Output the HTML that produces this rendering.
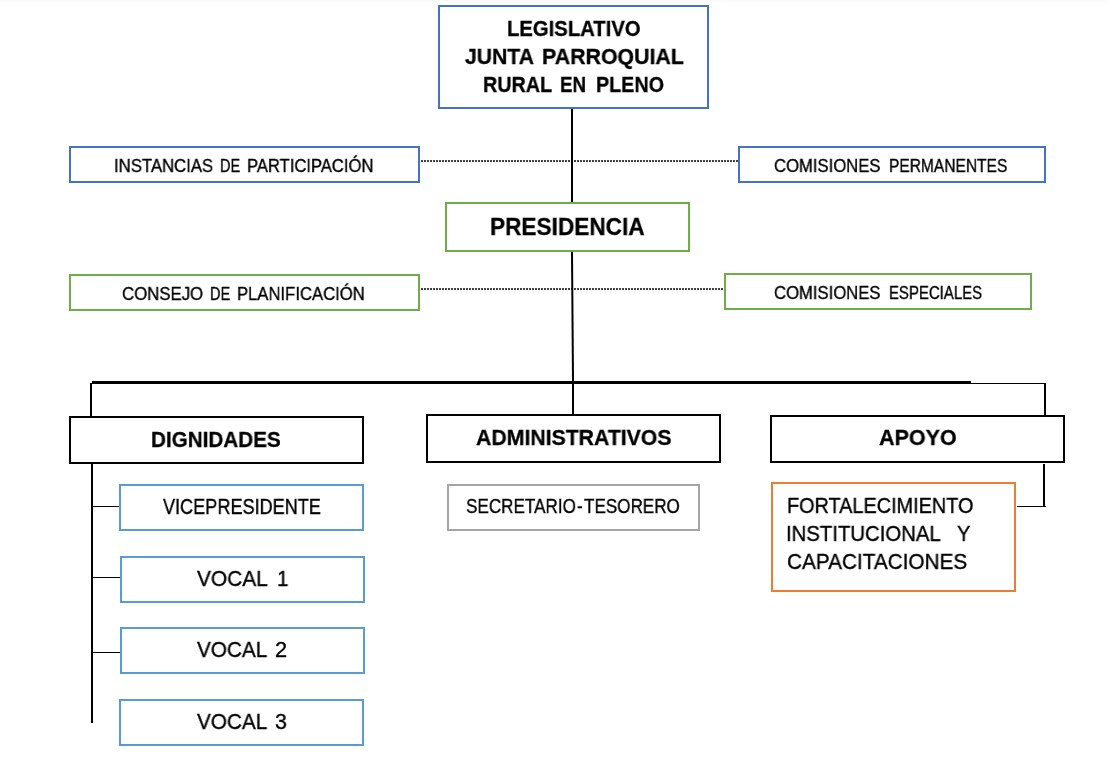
<!DOCTYPE html><html><head><meta charset="utf-8"><style>
html,body{margin:0;padding:0;background:#fff;}
body{width:1107px;height:757px;position:relative;overflow:hidden;font-family:"Liberation Sans",sans-serif;color:#000;}
.b{position:absolute;box-sizing:border-box;border:2px solid;background:transparent;}
.l{position:absolute;background:#000;}
.d{position:absolute;background:repeating-linear-gradient(to right,#404040 0 2px,transparent 2px 3px);}
.t{position:absolute;white-space:pre;line-height:1;transform-origin:0 0;will-change:transform;-webkit-text-stroke:0.35px #000;}
.bd{font-weight:bold;-webkit-text-stroke:0.3px #000;}
</style></head><body>
<div style="position:absolute;left:0;top:0;width:1107px;height:2px;background:#fafafa"></div>
<div class="d" style="left:421px;top:160px;width:317px;height:2px"></div>
<div class="d" style="left:421px;top:288px;width:303px;height:2px"></div>
<div class="b" style="left:438px;top:5px;width:271px;height:104px;border-color:#4472C4"></div>
<div class="b" style="left:69px;top:146px;width:351px;height:37px;border-color:#4472C4"></div>
<div class="b" style="left:738px;top:146px;width:308px;height:37px;border-color:#4472C4"></div>
<div class="b" style="left:445px;top:202px;width:245px;height:50px;border-color:#70AD47"></div>
<div class="b" style="left:69px;top:274px;width:351px;height:37px;border-color:#70AD47"></div>
<div class="b" style="left:724px;top:273px;width:308px;height:37px;border-color:#70AD47"></div>
<div class="b" style="left:69px;top:416px;width:295px;height:48px;border-color:#000"></div>
<div class="b" style="left:426px;top:414px;width:295px;height:49px;border-color:#000"></div>
<div class="b" style="left:770px;top:415px;width:295px;height:48px;border-color:#000"></div>
<div class="b" style="left:119px;top:484px;width:245px;height:47px;border-color:#5B9BD5"></div>
<div class="b" style="left:120px;top:556px;width:245px;height:47px;border-color:#5B9BD5"></div>
<div class="b" style="left:120px;top:627px;width:245px;height:47px;border-color:#5B9BD5"></div>
<div class="b" style="left:119px;top:699px;width:245px;height:47px;border-color:#5B9BD5"></div>
<div class="b" style="left:447px;top:484px;width:253px;height:47px;border-color:#A5A5A5"></div>
<div class="b" style="left:771px;top:482px;width:245px;height:110px;border-color:#ED7D31"></div>
<div class="l" style="left:571px;top:109px;width:2px;height:93px"></div>
<div class="l" style="left:572px;top:384px;width:2px;height:30px"></div>
<div class="l" style="left:92px;top:381px;width:879px;height:3px"></div>
<div class="l" style="left:971px;top:383px;width:75px;height:1px"></div>
<div class="l" style="left:1044px;top:383px;width:2px;height:32px"></div>
<div class="l" style="left:90px;top:383px;width:2px;height:33px"></div>
<div class="l" style="left:91px;top:464px;width:2px;height:259px"></div>
<div class="l" style="left:93px;top:506px;width:26px;height:1px"></div>
<div class="l" style="left:93px;top:577px;width:27px;height:1px"></div>
<div class="l" style="left:93px;top:652px;width:27px;height:1px"></div>
<div class="l" style="left:1043px;top:464px;width:2px;height:43px"></div>
<div class="l" style="left:1017px;top:506px;width:29px;height:1px"></div>
<svg style="position:absolute;left:0;top:0" width="1107" height="757"><line x1="572" y1="252" x2="573" y2="381" stroke="#000" stroke-width="2"/></svg>
<div class="t bd" style="left:507.00px;top:17.54px;font-size:21.80px;transform:scaleX(0.9296)">LEGISLATIVO</div>
<div class="t bd" style="left:465.00px;top:45.54px;font-size:21.80px;transform:scaleX(0.9723)">JUNTA</div>
<div class="t bd" style="left:542.00px;top:45.54px;font-size:21.80px;transform:scaleX(0.9794)">PARROQUIAL</div>
<div class="t bd" style="left:483.00px;top:73.54px;font-size:21.80px;transform:scaleX(0.9057)">RURAL</div>
<div class="t bd" style="left:560.00px;top:73.54px;font-size:21.80px;transform:scaleX(0.8606)">EN</div>
<div class="t bd" style="left:596.00px;top:73.54px;font-size:21.80px;transform:scaleX(0.9049)">PLENO</div>
<div class="t" style="left:114.00px;top:157.00px;font-size:18.90px;transform:scaleX(0.8858)">INSTANCIAS</div>
<div class="t" style="left:220.00px;top:157.00px;font-size:18.90px;transform:scaleX(0.7650)">DE</div>
<div class="t" style="left:247.00px;top:157.00px;font-size:18.90px;transform:scaleX(0.8787)">PARTICIPACIÓN</div>
<div class="t" style="left:774.00px;top:157.00px;font-size:18.90px;transform:scaleX(0.8824)">COMISIONES</div>
<div class="t" style="left:889.00px;top:157.00px;font-size:18.90px;transform:scaleX(0.8228)">PERMANENTES</div>
<div class="t bd" style="left:490.00px;top:215.08px;font-size:24.71px;transform:scaleX(0.9157)">PRESIDENCIA</div>
<div class="t" style="left:122.00px;top:285.00px;font-size:18.90px;transform:scaleX(0.8889)">CONSEJO</div>
<div class="t" style="left:210.00px;top:285.00px;font-size:18.90px;transform:scaleX(0.7677)">DE</div>
<div class="t" style="left:237.00px;top:285.00px;font-size:18.90px;transform:scaleX(0.8819)">PLANIFICACIÓN</div>
<div class="t" style="left:774.00px;top:284.00px;font-size:18.90px;transform:scaleX(0.8824)">COMISIONES</div>
<div class="t" style="left:889.00px;top:284.00px;font-size:18.90px;transform:scaleX(0.7913)">ESPECIALES</div>
<div class="t bd" style="left:151.00px;top:428.54px;font-size:21.80px;transform:scaleX(0.9481)">DIGNIDADES</div>
<div class="t bd" style="left:476.00px;top:426.54px;font-size:21.80px;transform:scaleX(0.9749)">ADMINISTRATIVOS</div>
<div class="t bd" style="left:879.00px;top:426.54px;font-size:21.80px;transform:scaleX(0.9872)">APOYO</div>
<div class="t" style="left:163.00px;top:495.54px;font-size:21.80px;transform:scaleX(0.8307)">VICEPRESIDENTE</div>
<div class="t" style="left:197.00px;top:567.54px;font-size:21.80px;transform:scaleX(0.9583)">VOCAL</div>
<div class="t" style="left:277.00px;top:567.54px;font-size:21.80px;transform:scaleX(0.9446)">1</div>
<div class="t" style="left:197.00px;top:638.54px;font-size:21.80px;transform:scaleX(0.9507)">VOCAL</div>
<div class="t" style="left:275.00px;top:638.54px;font-size:21.80px;transform:scaleX(0.9779)">2</div>
<div class="t" style="left:197.00px;top:710.54px;font-size:21.80px;transform:scaleX(0.9507)">VOCAL</div>
<div class="t" style="left:275.00px;top:710.54px;font-size:21.80px;transform:scaleX(0.9779)">3</div>
<div class="t" style="left:466.00px;top:495.77px;font-size:20.35px;transform:scaleX(0.8402)">SECRETARIO</div>
<div class="t" style="left:577.00px;top:495.77px;font-size:20.35px;transform:scaleX(0.8480)">-</div>
<div class="t" style="left:584.00px;top:495.77px;font-size:20.35px;transform:scaleX(0.8392)">TESORERO</div>
<div class="t" style="left:787.00px;top:494.54px;font-size:21.80px;transform:scaleX(0.9109)">FORTALECIMIENTO</div>
<div class="t" style="left:786.00px;top:522.54px;font-size:21.80px;transform:scaleX(0.9325)">INSTITUCIONAL</div>
<div class="t" style="left:957.00px;top:522.54px;font-size:21.80px;transform:scaleX(0.9231)">Y</div>
<div class="t" style="left:787.00px;top:550.54px;font-size:21.80px;transform:scaleX(0.9519)">CAPACITACIONES</div>
</body></html>
